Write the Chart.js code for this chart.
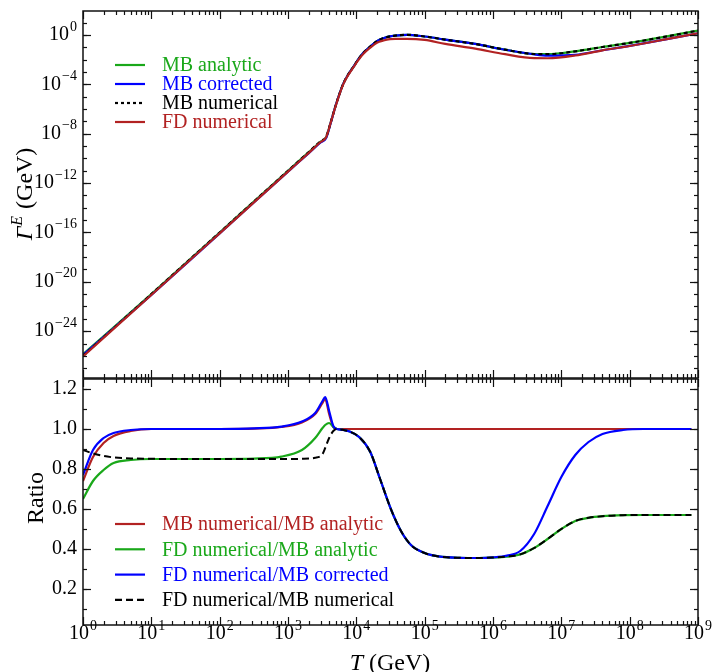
<!DOCTYPE html>
<html>
<head>
<meta charset="utf-8">
<script src="https://cdn.jsdelivr.net/npm/chart.js@4.4.1/dist/chart.umd.min.js"></script>
<style>
  body { margin: 0; background: #fff; }
  #wrap { position: relative; width: 712px; height: 672px; }
  canvas { position: absolute; left: 0; }
  #top { top: 0; }
  #bot { top: 378px; }
</style>
</head>
<body>
<div id="wrap">
  <canvas id="top" width="712" height="379"></canvas>
  <canvas id="bot" width="712" height="294"></canvas>
</div>
<script>
// ── Top panel: rate vs temperature (GeV) ──
const topT = [1, 10, 100, 1000, 2000, 3000, 3600, 4200, 4900, 5600, 6500, 7600, 9100,
  1.07e4, 1.26e4, 1.58e4, 2e4, 2.5e4, 3.1e4, 3.7e4, 5.5e4, 1e5, 2e5, 5.5e5, 1.5e6,
  4e6, 6.3e6, 1.6e7, 4e7, 1e8, 3.2e8, 1e9];
const mbAnalytic = [1.33e-26, 1.0e-21, 1.0e-16, 1.0e-11, 3.1e-10, 2.3e-9, 4.9e-9, 7.5e-8,
  1.4e-6, 1.4e-5, 1.26e-4, 6.3e-4, 2.8e-3, 1.1e-2, 3.5e-2, 0.11, 0.32, 0.56, 0.79, 0.91,
  1.05, 0.76, 0.43, 0.19, 0.065, 0.029, 0.028, 0.048, 0.107, 0.23, 0.71, 2.3];
const mbCorrected = [1.17e-26, 0.86e-21, 0.85e-16, 0.85e-11, 2.6e-10, 1.95e-9, 4.3e-9, 6.9e-8,
  1.4e-6, 1.4e-5, 1.26e-4, 6.3e-4, 2.8e-3, 1.1e-2, 3.5e-2, 0.11, 0.32, 0.56, 0.79, 0.91,
  1.05, 0.76, 0.43, 0.19, 0.064, 0.027, 0.0215, 0.025, 0.059, 0.133, 0.42, 1.4];
const mbNumerical = [1.0e-26, 1.0e-21, 1.0e-16, 1.0e-11, 3.2e-10, 2.5e-9, 5.6e-9, 7.9e-8,
  1.4e-6, 1.4e-5, 1.26e-4, 6.3e-4, 2.8e-3, 1.1e-2, 3.5e-2, 0.11, 0.32, 0.56, 0.79, 0.91,
  1.05, 0.76, 0.43, 0.19, 0.065, 0.029, 0.028, 0.048, 0.107, 0.23, 0.71, 2.3];
const fdNumerical = [0.9e-26, 0.86e-21, 0.85e-16, 0.85e-11, 2.7e-10, 2.15e-9, 5.0e-9, 7.2e-8,
  1.3e-6, 1.3e-5, 1.15e-4, 5.7e-4, 2.5e-3, 9.5e-3, 2.9e-2, 0.09, 0.24, 0.36, 0.46, 0.49,
  0.49, 0.40, 0.19, 0.079, 0.028, 0.0135, 0.0132, 0.022, 0.058, 0.13, 0.42, 1.4];

// ── Bottom panel: ratios ──
const ratioT = [1, 1.4, 2, 2.8, 5, 10, 32, 100, 320, 800, 1600, 2500, 3200, 3500, 4000, 4600,
  5200, 6300, 8000, 1.1e4, 1.6e4, 2.2e4, 3.2e4, 4.5e4, 6.3e4, 1e5, 1.6e5, 3.2e5, 6.3e5, 1e6,
  1.6e6, 2.5e6, 4e6, 6.3e6, 1e7, 1.6e7, 2.5e7, 4e7, 8e7, 1.6e8, 3.2e8, 8e8];
const ratioMbNumMbAn = [0.74, 0.86, 0.93, 0.965, 0.99, 1.0, 1.0, 1.0, 1.002, 1.01, 1.033, 1.075,
  1.13, 1.15, 1.075, 1.01, 1.0, 1.0, 1.0, 1.0, 1.0, 1.0, 1.0, 1.0, 1.0, 1.0, 1.0, 1.0, 1.0, 1.0,
  1.0, 1.0, 1.0, 1.0, 1.0, 1.0, 1.0, 1.0, 1.0, 1.0, 1.0, 1.0];
const ratioFdMbAn = [0.65, 0.74, 0.795, 0.83, 0.845, 0.85, 0.85, 0.85, 0.852, 0.862, 0.895, 0.955,
  1.005, 1.02, 1.03, 1.01, 1.0, 0.996, 0.987, 0.96, 0.885, 0.755, 0.6, 0.49, 0.42, 0.38, 0.363,
  0.356, 0.355, 0.357, 0.362, 0.373, 0.405, 0.45, 0.5, 0.54, 0.556, 0.564, 0.569, 0.57, 0.57, 0.57];
const ratioFdMbCorr = [0.77, 0.895, 0.955, 0.98, 0.995, 1.0, 1.0, 1.0, 1.003, 1.012, 1.037, 1.08,
  1.14, 1.16, 1.09, 1.015, 1.0, 0.996, 0.987, 0.96, 0.885, 0.755, 0.6, 0.49, 0.42, 0.38, 0.363,
  0.356, 0.355, 0.358, 0.367, 0.39, 0.475, 0.615, 0.76, 0.87, 0.935, 0.975, 0.995, 1.0, 1.0, 1.0];
const ratioFdMbNum = [0.895, 0.878, 0.865, 0.858, 0.853, 0.851, 0.85, 0.85, 0.85, 0.85, 0.851, 0.856,
  0.875, 0.905, 0.955, 0.99, 1.0, 0.996, 0.987, 0.96, 0.885, 0.755, 0.6, 0.49, 0.42, 0.38, 0.363,
  0.356, 0.355, 0.357, 0.362, 0.373, 0.405, 0.45, 0.5, 0.54, 0.556, 0.564, 0.569, 0.57, 0.57, 0.57];

const topYExp = [0, -4, -8, -12, -16, -20, -24];
const botYTicks = [0.2, 0.4, 0.6, 0.8, 1.0, 1.2];
const xExp = [0, 1, 2, 3, 4, 5, 6, 7, 8, 9];

const GREEN = '#1aa81a', BLUE = '#0000ff', RED = '#b22222', BLACK = '#000000';
const SERIF = '"Liberation Serif", "DejaVu Serif", serif';

const pts = (xs, ys) => xs.map((x, i) => ({ x, y: ys[i] }));

function line(ctx, x1, y1, x2, y2) {
  ctx.beginPath(); ctx.moveTo(x1, y1); ctx.lineTo(x2, y2); ctx.stroke();
}

// "10" with a raised exponent
function drawPow(ctx, exp, x, y, align) {
  const sup = exp < 0 ? '\u2212' + (-exp) : String(exp);
  ctx.font = '20px ' + SERIF;
  const wb = ctx.measureText('10').width;
  ctx.font = '14px ' + SERIF;
  const ws = ctx.measureText(sup).width;
  const x0 = align === 'right' ? x - wb - ws - 1 : x - (wb + ws + 1) / 2;
  ctx.textAlign = 'left'; ctx.textBaseline = 'middle';
  ctx.font = '20px ' + SERIF;
  ctx.fillText('10', x0, y);
  ctx.font = '14px ' + SERIF;
  ctx.fillText(sup, x0 + wb + 1, y - 8);
}

// box, inward ticks on all four sides
function drawFrame(chart, yMajor, yMinor) {
  const { ctx, chartArea: a, scales: { x, y } } = chart;
  ctx.save();
  ctx.strokeStyle = '#111';
  ctx.lineWidth = 1.2;
  for (let d = 0; d <= 9; d++) {
    for (let m = 1; m < 10; m++) {
      const v = m * Math.pow(10, d);
      if (v > 1e9) break;
      const px = Math.round(x.getPixelForValue(v)) + 0.5;
      const len = m === 1 ? 8 : 4;
      line(ctx, px, a.top, px, a.top + len);
      line(ctx, px, a.bottom, px, a.bottom - len);
    }
  }
  const yTick = (v, len) => {
    const py = Math.round(y.getPixelForValue(v)) + 0.5;
    if (py < a.top - 1 || py > a.bottom + 1) return;
    line(ctx, a.left, py, a.left + len, py);
    line(ctx, a.right, py, a.right - len, py);
  };
  yMinor.forEach(v => yTick(v, 4));
  yMajor.forEach(v => yTick(v, 8));
  ctx.lineWidth = 1.5;
  ctx.strokeRect(a.left, a.top, a.right - a.left, a.bottom - a.top);
  ctx.restore();
}

function drawLegend(chart, x0, y0, step, dashes) {
  const ctx = chart.ctx;
  ctx.save();
  chart.data.datasets.forEach((ds, i) => {
    const yy = y0 + i * step;
    ctx.strokeStyle = ds.borderColor;
    ctx.lineWidth = 2.2;
    ctx.setLineDash(dashes[i] || []);
    line(ctx, x0, yy, x0 + 30, yy);
    ctx.setLineDash([]);
    ctx.fillStyle = ds.borderColor;
    ctx.font = '20px ' + SERIF;
    ctx.textAlign = 'left'; ctx.textBaseline = 'middle';
    ctx.fillText(ds.label, x0 + 47, yy + 1);
  });
  ctx.restore();
}

const topDecorations = {
  id: 'topDecorations',
  afterDraw(chart) {
    const ctx = chart.ctx, y = chart.scales.y;
    const minors = [];
    for (let e = -27; e <= 1; e++) minors.push(Math.pow(10, e));
    drawFrame(chart, topYExp.map(e => Math.pow(10, e)), minors);
    ctx.save();
    ctx.fillStyle = '#000';
    topYExp.forEach(e => drawPow(ctx, e, 77, y.getPixelForValue(Math.pow(10, e)), 'right'));
    // y title: Γ^E (GeV)
    ctx.translate(26, 194);
    ctx.rotate(-Math.PI / 2);
    ctx.textBaseline = 'middle'; ctx.textAlign = 'left';
    ctx.font = 'italic 24px ' + SERIF;
    const w1 = ctx.measureText('\u0393').width;
    ctx.font = 'italic 16px ' + SERIF;
    const w2 = ctx.measureText('E').width;
    ctx.font = '24px ' + SERIF;
    const w3 = ctx.measureText(' (GeV)').width;
    let sx = -(w1 + w2 + w3 + 2) / 2;
    ctx.font = 'italic 24px ' + SERIF; ctx.fillText('\u0393', sx, 0);
    ctx.font = 'italic 16px ' + SERIF; ctx.fillText('E', sx + w1 + 1, -8);
    ctx.font = '24px ' + SERIF; ctx.fillText(' (GeV)', sx + w1 + w2 + 2, 0);
    ctx.restore();
    drawLegend(chart, 115, 65, 19, [null, null, [3, 3], null]);
  }
};

const botDecorations = {
  id: 'botDecorations',
  afterDraw(chart) {
    const ctx = chart.ctx, x = chart.scales.x, y = chart.scales.y;
    const minors = [];
    for (let k = 1; k <= 12; k++) minors.push(k / 10);
    drawFrame(chart, botYTicks, minors);
    ctx.save();
    ctx.fillStyle = '#000';
    ctx.font = '20px ' + SERIF;
    ctx.textAlign = 'right'; ctx.textBaseline = 'middle';
    botYTicks.forEach(v => ctx.fillText(v.toFixed(1), 77, y.getPixelForValue(v)));
    xExp.forEach(e => drawPow(ctx, e, x.getPixelForValue(Math.pow(10, e)), 256, 'center'));
    // y title
    ctx.save();
    ctx.translate(37, 120);
    ctx.rotate(-Math.PI / 2);
    ctx.font = '24px ' + SERIF;
    ctx.textAlign = 'center'; ctx.textBaseline = 'middle';
    ctx.fillText('Ratio', 0, 0);
    ctx.restore();
    // x title: T (GeV)
    ctx.textBaseline = 'alphabetic'; ctx.textAlign = 'left';
    ctx.font = 'italic 24px ' + SERIF;
    const wt = ctx.measureText('T').width;
    ctx.font = '24px ' + SERIF;
    const wg = ctx.measureText(' (GeV)').width;
    const sx = 390 - (wt + wg) / 2;
    ctx.font = 'italic 24px ' + SERIF; ctx.fillText('T', sx, 292);
    ctx.font = '24px ' + SERIF; ctx.fillText(' (GeV)', sx + wt, 292);
    ctx.restore();
    drawLegend(chart, 115, 146, 25.3, [null, null, null, [7, 4]]);
  }
};

const lineDefaults = { pointRadius: 0, borderWidth: 2.2, cubicInterpolationMode: 'monotone', fill: false };

new Chart(document.getElementById('top'), {
  type: 'line',
  data: {
    datasets: [
      { ...lineDefaults, label: 'MB analytic', data: pts(topT, mbAnalytic), borderColor: GREEN, order: 3 },
      { ...lineDefaults, label: 'MB corrected', data: pts(topT, mbCorrected), borderColor: BLUE, order: 2 },
      { ...lineDefaults, label: 'MB numerical', data: pts(topT, mbNumerical), borderColor: BLACK,
        borderDash: [4, 3], order: 1 },
      { ...lineDefaults, label: 'FD numerical', data: pts(topT, fdNumerical), borderColor: RED, order: 0 }
    ]
  },
  options: {
    responsive: false,
    animation: false,
    devicePixelRatio: 1,
    layout: { padding: { left: 83, right: 14, top: 11, bottom: 1 } },
    plugins: { legend: { display: false }, tooltip: { enabled: false } },
    scales: {
      x: { type: 'logarithmic', min: 1, max: 1e9, display: false },
      y: { type: 'logarithmic', min: 1.6e-28, max: 89, display: false }
    }
  },
  plugins: [topDecorations]
});

new Chart(document.getElementById('bot'), {
  type: 'line',
  data: {
    datasets: [
      { ...lineDefaults, label: 'MB numerical/MB analytic', data: pts(ratioT, ratioMbNumMbAn), borderColor: RED, order: 3 },
      { ...lineDefaults, label: 'FD numerical/MB analytic', data: pts(ratioT, ratioFdMbAn), borderColor: GREEN, order: 2 },
      { ...lineDefaults, label: 'FD numerical/MB corrected', data: pts(ratioT, ratioFdMbCorr), borderColor: BLUE, order: 1 },
      { ...lineDefaults, label: 'FD numerical/MB numerical', data: pts(ratioT, ratioFdMbNum), borderColor: BLACK,
        borderWidth: 2, borderDash: [7, 4], order: 0 }
    ]
  },
  options: {
    responsive: false,
    animation: false,
    devicePixelRatio: 1,
    layout: { padding: { left: 83, right: 14, top: 1, bottom: 47 } },
    plugins: { legend: { display: false }, tooltip: { enabled: false } },
    scales: {
      x: { type: 'logarithmic', min: 1, max: 1e9, display: false },
      y: { type: 'linear', min: 0.02, max: 1.25, display: false }
    }
  },
  plugins: [botDecorations]
});
</script>
</body>
</html>
